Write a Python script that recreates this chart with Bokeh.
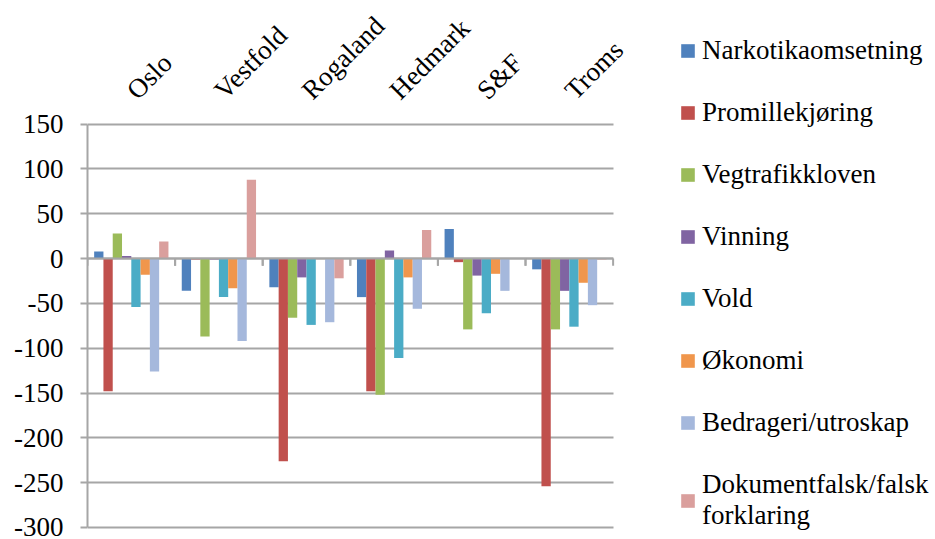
from math import pi
from bokeh.plotting import figure
from bokeh.models import (Range1d, FixedTicker, Legend, LegendItem, ColumnDataSource)
from bokeh.transform import dodge
from bokeh.core.properties import value
from bokeh.embed import file_html
from bokeh.resources import INLINE

# ---------------- data ----------------
categories = ["Oslo", "Vestfold", "Rogaland", "Hedmark", "S&F", "Troms"]

series_names = ["Narkotikaomsetning", "Promillekjøring", "Vegtrafikkloven", "Vinning",
                "Vold", "Økonomi", "Bedrageri/utroskap", "Dokumentfalsk/falsk\nforklaring"]

narkotika = [8, -36, -32, -43, 33, -12]
promille = [-148, -1, -226, -148, -4, -254]
vegtrafikk = [28, -87, -66, -152, -79, -79]
vinning = [3, -1, -21, 9, -19, -36]
vold = [-54, -43, -74, -111, -61, -76]
okonomi = [-18, -33, 0, -21, -17, -27]
bedrageri = [-126, -92, -71, -56, -36, -52]
dokumentfalsk = [19, 88, -22, 32, 0, -1]

y_ticks = [-300, -250, -200, -150, -100, -50, 0, 50, 100, 150]

series_values = [narkotika, promille, vegtrafikk, vinning, vold, okonomi, bedrageri, dokumentfalsk]
colors = ["#4F81BD", "#C0504D", "#9BBB59", "#8064A2", "#4BACC6", "#F0964C", "#A5B8DC", "#DA9F9D"]

FONT = "Liberation Serif"
GRAY = "#a6a6a6"

n = len(categories)
data = {"cat": categories, "xc": [i + 0.5 for i in range(n)]}
for i, vals in enumerate(series_values):
    data[f"s{i}"] = vals
src = ColumnDataSource(data)

p = figure(x_range=Range1d(0, 9.68), y_range=Range1d(-313.4, 287.9),
           width=935, height=539, output_backend="svg", toolbar_location=None,
           x_axis_location=None, min_border_left=87, min_border_right=0,
           min_border_top=0, min_border_bottom=0, outline_line_color=None,
           background_fill_color="white", border_fill_color="white")

bw = 0.106
items = []
for i, (name, col) in enumerate(zip(series_names, colors)):
    r = p.vbar(x=dodge("xc", (i - 3.5) * bw), top=f"s{i}", width=bw,
               source=src, fill_color=col, line_color=None)
    items.append(LegendItem(label=name, renderers=[r]))

# horizontal category axis at zero (drawn over the bars) with boundary ticks
p.segment(x0=0, y0=0, x1=n, y1=0, line_color=GRAY, line_width=2)
for off in (-0.5, 0.5):
    p.segment(x0=dodge("xc", off), y0=0, x1=dodge("xc", off), y1=-8,
              source=src, line_color=GRAY, line_width=2)

# category labels at top
p.text(x="xc", y=183, text="cat", source=src, angle=pi / 4,
       text_font=value(FONT), text_font_size="27px", text_color="black",
       text_align="left", text_baseline="alphabetic")

# y axis
p.yaxis.ticker = FixedTicker(ticks=y_ticks)
p.yaxis.major_label_overrides = {t: str(t) for t in y_ticks}
p.yaxis.bounds = (-300, 150)
p.yaxis.axis_line_color = GRAY
p.yaxis.axis_line_width = 2
p.yaxis.major_tick_line_color = GRAY
p.yaxis.major_tick_line_width = 2
p.yaxis.major_tick_out = 7
p.yaxis.major_tick_in = 0
p.yaxis.minor_tick_out = 0
p.yaxis.minor_tick_in = 0
p.yaxis.major_label_text_font = FONT
p.yaxis.major_label_text_font_size = "27px"
p.yaxis.major_label_text_color = "black"
p.yaxis.major_label_standoff = 17

p.ygrid.ticker = FixedTicker(ticks=y_ticks)
p.ygrid.bounds = (-300, 150)
p.ygrid.cross_bounds = (0, n)
p.ygrid.grid_line_color = GRAY
p.ygrid.grid_line_width = 2
p.xgrid.visible = False

legend = Legend(items=items, location=(592, 8), orientation="vertical",
                label_text_font=FONT, label_text_font_size="27px", label_text_color="black",
                glyph_width=17, glyph_height=17, label_standoff=6,
                label_height=30, spacing=31, padding=0, margin=0,
                border_line_color=None, background_fill_alpha=0)
p.add_layout(legend)

open("out.html", "w").write(file_html(p, INLINE))
